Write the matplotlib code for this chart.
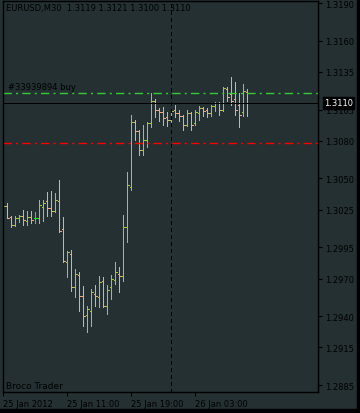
import numpy as np
import matplotlib.pyplot as plt
from matplotlib.patches import Rectangle

# EURUSD M30 bars, 25 Jan 2012 03:00 onwards (open, high, low, close)
opens = [1.3023, 1.3028, 1.3019, 1.3013, 1.3018, 1.3020, 1.3016, 1.3019, 1.3018, 1.3018,
         1.3027, 1.3032, 1.3026, 1.3024, 1.3032, 1.3010, 1.2983, 1.2990, 1.2963, 1.2973,
         1.2956, 1.2941, 1.2944, 1.2958, 1.2955, 1.2968, 1.2948, 1.2963, 1.2969, 1.2974,
         1.2972, 1.3011, 1.3043, 1.3095, 1.3088, 1.3073, 1.3081, 1.3094, 1.3112, 1.3105,
         1.3103, 1.3099, 1.3097, 1.3105, 1.3102, 1.3100, 1.3093, 1.3102, 1.3094, 1.3102,
         1.3106, 1.3105, 1.3102, 1.3108, 1.3110, 1.3105, 1.3121, 1.3117, 1.3113, 1.3109,
         1.3103, 1.3119]
highs = [1.3031, 1.3030, 1.3020, 1.3020, 1.3021, 1.3025, 1.3024, 1.3024, 1.3023, 1.3033,
         1.3033, 1.3039, 1.3040, 1.3038, 1.3049, 1.3019, 1.2992, 1.2993, 1.2978, 1.2975,
         1.2964, 1.2948, 1.2962, 1.2965, 1.2972, 1.2971, 1.2965, 1.2973, 1.2983, 1.2979,
         1.3021, 1.3055, 1.3101, 1.3097, 1.3089, 1.3093, 1.3095, 1.3118, 1.3113, 1.3106,
         1.3107, 1.3103, 1.3105, 1.3109, 1.3105, 1.3101, 1.3105, 1.3103, 1.3105, 1.3108,
         1.3107, 1.3106, 1.3109, 1.3111, 1.3111, 1.3123, 1.3123, 1.3131, 1.3127, 1.3118,
         1.3125, 1.3121]
lows = [1.3020, 1.3018, 1.3011, 1.3012, 1.3015, 1.3013, 1.3013, 1.3014, 1.3014, 1.3014,
        1.3016, 1.3020, 1.3020, 1.3023, 1.3007, 1.2983, 1.2971, 1.2960, 1.2955, 1.2944,
        1.2932, 1.2927, 1.2932, 1.2948, 1.2947, 1.2947, 1.2942, 1.2954, 1.2966, 1.2959,
        1.2968, 1.2999, 1.3041, 1.3081, 1.3069, 1.3069, 1.3075, 1.3091, 1.3099, 1.3096,
        1.3093, 1.3092, 1.3095, 1.3099, 1.3096, 1.3089, 1.3092, 1.3089, 1.3093, 1.3097,
        1.3100, 1.3099, 1.3100, 1.3104, 1.3101, 1.3104, 1.3112, 1.3109, 1.3101, 1.3091,
        1.3100, 1.3100]
closes = [1.3028, 1.3018, 1.3013, 1.3018, 1.3020, 1.3017, 1.3019, 1.3017, 1.3018, 1.3029,
          1.3030, 1.3026, 1.3024, 1.3033, 1.3008, 1.2984, 1.2991, 1.2963, 1.2974, 1.2956,
          1.2940, 1.2946, 1.2959, 1.2956, 1.2967, 1.2948, 1.2961, 1.2970, 1.2975, 1.2972,
          1.3011, 1.3045, 1.3095, 1.3088, 1.3073, 1.3081, 1.3094, 1.3112, 1.3105, 1.3103,
          1.3098, 1.3097, 1.3104, 1.3102, 1.3100, 1.3093, 1.3102, 1.3093, 1.3103, 1.3106,
          1.3104, 1.3102, 1.3108, 1.3110, 1.3105, 1.3122, 1.3115, 1.3112, 1.3105, 1.3101,
          1.3120, 1.3110]

time_ticks = [0, 16, 32, 48]
time_labels = ["25 Jan 2012", "25 Jan 11:00", "25 Jan 19:00", "26 Jan 03:00"]
day_sep = 42
price_ticks = [1.3190, 1.3160, 1.3135, 1.3105, 1.3080, 1.3050, 1.3025,
               1.2995, 1.2970, 1.2940, 1.2915, 1.2885]
order_price = 1.3118
stop_price = 1.3078
bid = 1.3110
order_label = "#33939894 buy"
header = "EURUSD,M30  1.3119 1.3121 1.3100 1.3110"

bg = "#243032"
up_col = "#9acd32"
dn_col = "#f4a582"
doji_col = "#00ff00"

W, H = 360, 414
fig = plt.figure(figsize=(W / 100, H / 100), dpi=100, facecolor=bg)
ax = fig.add_axes([2.7 / W, 1 - 392.7 / H, 315.6 / W, 390.4 / H], facecolor=bg)

x = np.arange(len(opens))
o = np.array(opens); h = np.array(highs); l = np.array(lows); c = np.array(closes)
cols = [up_col if cc > oo else (dn_col if cc < oo else doji_col) for oo, cc in zip(o, c)]

px = 0.72  # one pixel at 100 dpi
ax.vlines(x, l, h, colors=cols, lw=px, antialiased=False)
ax.hlines(o, x - 0.4, x, colors=cols, lw=px, antialiased=False)
ax.hlines(c, x, x + 0.4, colors=cols, lw=px, antialiased=False)

ax.axhline(order_price, color="#32cd32", lw=1.0, ls=(0, (6, 3, 1.5, 3)))
ax.axhline(stop_price, color="#ff0000", lw=1.0, ls=(0, (6, 3, 1.5, 3)))
ax.axhline(bid, color="black", lw=px, antialiased=False)
ax.axvline(day_sep, color="black", lw=px, ls=(0, (4, 3)), antialiased=False)

ax.set_xlim(-0.15, 78.75)
ax.set_ylim(1.28797, 1.31914)

ax.yaxis.tick_right()
ax.set_yticks(price_ticks)
ax.set_yticklabels([f"{p:.4f}" for p in price_ticks])
ax.set_xticks(time_ticks)
ax.set_xticklabels(time_labels, ha="left")
ax.tick_params(colors="black", labelcolor="black", labelsize=6, length=3, width=0.8, pad=2)
for s in ax.spines.values():
    s.set_color("black")
    s.set_linewidth(1.0)

ax.text(0.012, 0.995, header, transform=ax.transAxes, fontsize=6, color="black", va="top")
ax.text(0.018, order_price + 0.0002, order_label, fontsize=6, color="black", va="bottom",
        transform=ax.get_yaxis_transform())
ax.text(0.012, 0.004, "Broco Trader", transform=ax.transAxes, fontsize=6.5, color="black", va="bottom")

# current price box on the price scale
ax.annotate(f"{bid:.4f}", xy=(1.0, bid + 0.00003), xycoords=ax.get_yaxis_transform(),
            xytext=(4, 0), textcoords="offset points", fontsize=6, color="white",
            va="center", ha="left", zorder=5,
            bbox=dict(boxstyle="square,pad=0.15", fc="black", ec="black"))

# black strips along right and bottom edges
fig.add_artist(Rectangle((357 / W, 0), 3 / W, 1, transform=fig.transFigure, color="black"))
fig.add_artist(Rectangle((0, 0), 1, 4 / H, transform=fig.transFigure, color="black"))

fig.savefig("out.png", dpi=100, facecolor=bg)
